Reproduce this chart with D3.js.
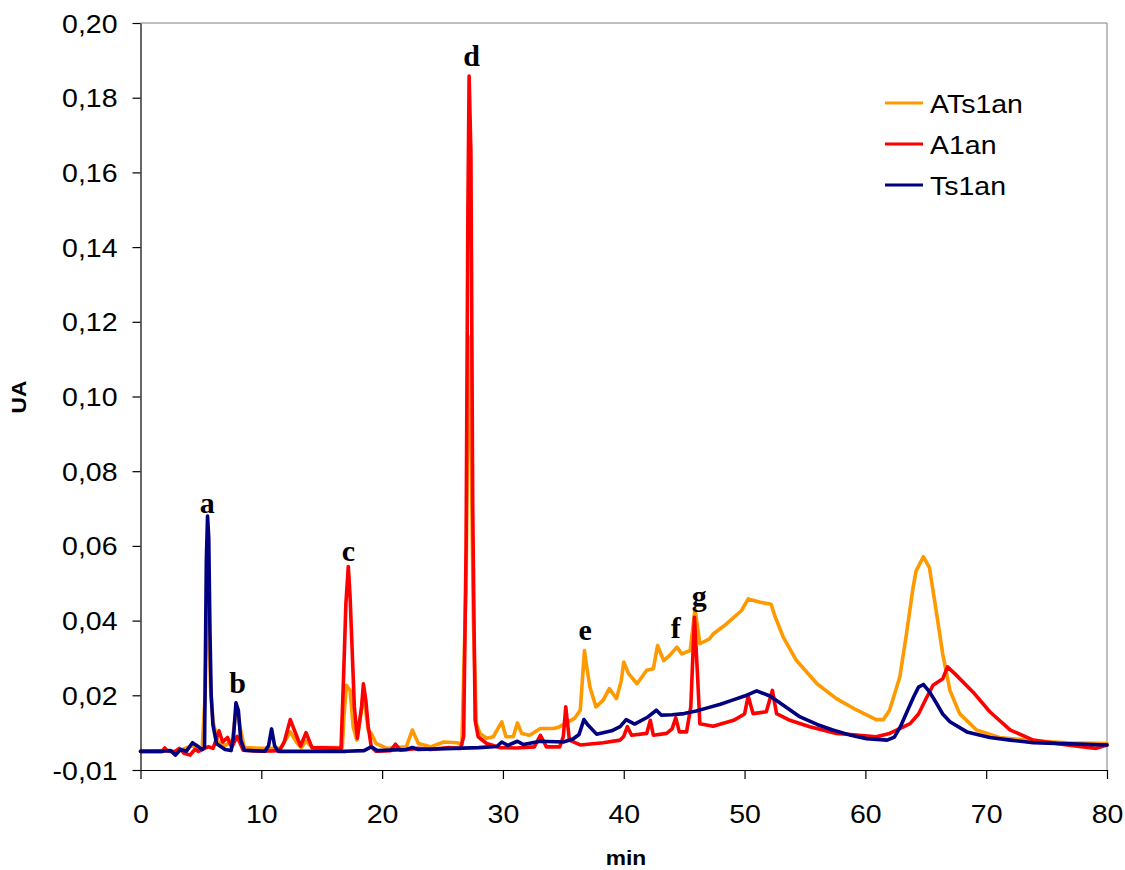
<!DOCTYPE html>
<html><head><meta charset="utf-8">
<script src="https://cdn.jsdelivr.net/npm/d3@7"></script>
<style>
body{margin:0;background:#fff}
svg{display:block}
text{fill:#000}
</style>
</head><body>
<svg id="c" width="1125" height="870"></svg>
<script>
// ---------- data ----------
const seriesNames = ["ATs1an", "A1an", "Ts1an"];
const xTicks = [0, 10, 20, 30, 40, 50, 60, 70, 80];
const yTicks = [0, 0.02, 0.04, 0.06, 0.08, 0.10, 0.12, 0.14, 0.16, 0.18, 0.20];
const yTickLabels = ["-0,01", "0,02", "0,04", "0,06", "0,08", "0,10", "0,12", "0,14", "0,16", "0,18", "0,20"];
const xTitle = "min";
const yTitle = "UA";

// [min, UA]
const ATs1an = [[0,0.005],[2,0.0052],[3,0.005],[4.3,0.0065],[5.1,0.0055],[5.35,0.02],[5.5,0.045],[5.65,0.04],[5.8,0.022],[6.0,0.013],[6.4,0.0075],[7.0,0.0065],[7.6,0.008],[7.95,0.017],[8.2,0.012],[8.6,0.006],[10,0.0058],[11.6,0.0058],[12.4,0.0102],[12.9,0.0075],[13.3,0.006],[13.7,0.0078],[14.2,0.006],[16.7,0.006],[16.85,0.015],[17.05,0.0227],[17.35,0.0213],[17.6,0.0116],[17.9,0.008],[18.2,0.0142],[18.45,0.0205],[18.85,0.0107],[19.1,0.0098],[19.5,0.0071],[20.4,0.0058],[22.0,0.0062],[22.5,0.0107],[23.0,0.0071],[24.0,0.0062],[25.1,0.0075],[26.2,0.0073],[26.6,0.0068],[26.95,0.05],[27.15,0.116],[27.35,0.09],[27.55,0.04],[27.8,0.0124],[28.1,0.0098],[28.65,0.0085],[29.2,0.0089],[29.9,0.0129],[30.25,0.0089],[30.85,0.0089],[31.2,0.0126],[31.55,0.0098],[32.2,0.0093],[33.1,0.0111],[34.2,0.0111],[34.7,0.0116],[35.95,0.0139],[36.4,0.016],[36.75,0.032],[36.9,0.0284],[37.2,0.0222],[37.7,0.0169],[38.3,0.0187],[38.8,0.0218],[39.4,0.0191],[39.8,0.024],[40.0,0.0289],[40.4,0.0258],[41.1,0.0231],[41.9,0.0267],[42.45,0.0271],[42.8,0.0333],[43.3,0.0293],[43.8,0.0307],[44.4,0.0329],[44.8,0.0311],[45.5,0.032],[45.9,0.0431],[46.3,0.0338],[47.1,0.0351],[47.4,0.0364],[48.5,0.0391],[49.75,0.0427],[50.3,0.0458],[51.3,0.0449],[52.2,0.0444],[52.5,0.0413],[53.2,0.0356],[54.3,0.0293],[56,0.0231],[57.6,0.0191],[59.3,0.016],[60.9,0.0135],[61.5,0.0135],[62.0,0.016],[62.85,0.0249],[63.4,0.0364],[63.95,0.0489],[64.2,0.0533],[64.8,0.0571],[65.3,0.0542],[65.9,0.0418],[66.4,0.0311],[67,0.0213],[67.8,0.0151],[69.2,0.0107],[71.1,0.0087],[73.9,0.0078],[76.7,0.0073],[80,0.0071]];

const A1an = [[0,0.005],[1.8,0.005],[2.0,0.0059],[2.3,0.005],[2.8,0.0048],[3.2,0.0058],[3.6,0.0045],[4.1,0.004],[4.5,0.0055],[4.8,0.005],[5.3,0.0058],[5.6,0.0062],[6.0,0.0058],[6.2,0.0075],[6.5,0.0105],[6.8,0.0075],[7.2,0.0087],[7.55,0.0061],[8.0,0.009],[8.5,0.0053],[10,0.005],[11.5,0.0052],[11.9,0.0075],[12.4,0.0135],[12.9,0.0093],[13.25,0.0064],[13.7,0.010],[14.2,0.006],[16.6,0.0058],[16.8,0.024],[17.0,0.0445],[17.2,0.0545],[17.35,0.0462],[17.5,0.0338],[17.7,0.0169],[17.95,0.0085],[18.3,0.0169],[18.45,0.0231],[18.65,0.0187],[18.85,0.0116],[19.1,0.0062],[19.5,0.005],[20.7,0.0052],[21.1,0.0069],[21.5,0.0053],[23,0.0058],[24,0.0055],[25.5,0.006],[26.5,0.0058],[26.75,0.009],[26.95,0.06],[27.1,0.15],[27.2,0.1858],[27.35,0.165],[27.5,0.07],[27.7,0.0133],[27.95,0.0089],[28.65,0.0071],[29.75,0.006],[31.1,0.0059],[32.6,0.0062],[33.1,0.0093],[33.6,0.0062],[34.7,0.0062],[35.0,0.009],[35.2,0.0169],[35.5,0.008],[36.4,0.0067],[38.3,0.0073],[39.7,0.008],[40.0,0.009],[40.3,0.0116],[40.65,0.0093],[41.9,0.0098],[42.2,0.0133],[42.45,0.0093],[43.55,0.0098],[44.0,0.011],[44.3,0.014],[44.6,0.0102],[45.2,0.0102],[45.55,0.0169],[45.85,0.0409],[46.1,0.0258],[46.3,0.0124],[47.4,0.0117],[49.1,0.0133],[50.0,0.015],[50.3,0.0198],[50.7,0.0151],[51.8,0.0156],[52.3,0.0213],[52.65,0.0151],[53.75,0.0133],[55.4,0.0116],[57.6,0.0098],[60.9,0.0089],[62.0,0.0098],[62.8,0.011],[63.7,0.0124],[64.4,0.015],[65.1,0.0196],[65.6,0.0227],[66.4,0.0244],[66.8,0.0276],[67.4,0.0258],[68.9,0.0209],[70.3,0.0156],[72,0.0107],[73.9,0.008],[76.7,0.0067],[79.1,0.0058],[80,0.0067]];

const Ts1an = [[0,0.005],[1.8,0.005],[2.5,0.0052],[2.9,0.004],[3.3,0.0055],[3.8,0.005],[4.3,0.0073],[4.8,0.0062],[5.1,0.0055],[5.3,0.006],[5.45,0.056],[5.55,0.068],[5.65,0.062],[5.75,0.037],[5.85,0.02],[6.0,0.012],[6.3,0.007],[7.0,0.0055],[7.5,0.0052],[7.7,0.009],[7.9,0.018],[8.1,0.016],[8.3,0.008],[8.6,0.0053],[10.3,0.005],[10.6,0.0065],[10.85,0.011],[11.1,0.0065],[11.4,0.005],[13,0.005],[17,0.005],[18.5,0.0052],[19.1,0.0062],[19.6,0.0052],[22,0.0055],[22.5,0.006],[23,0.0055],[26,0.0058],[28,0.006],[29.5,0.0063],[29.9,0.0075],[30.4,0.0066],[31.2,0.0077],[31.7,0.0068],[33.1,0.0077],[35,0.0075],[35.8,0.0083],[36.3,0.0095],[36.7,0.0135],[37.0,0.0122],[37.75,0.0096],[39.0,0.0105],[39.7,0.0116],[40.2,0.0135],[40.9,0.0123],[42.0,0.0142],[42.7,0.016],[43.1,0.0147],[44,0.0148],[45,0.0151],[46,0.0158],[47,0.0167],[48,0.0176],[49,0.0187],[50,0.0198],[51,0.0212],[52.1,0.0198],[53,0.0178],[54.6,0.0142],[56,0.0122],[57.3,0.0107],[58.7,0.0094],[60.1,0.0084],[61.8,0.008],[62.4,0.0088],[62.9,0.0116],[63.5,0.016],[64,0.0196],[64.4,0.0222],[64.8,0.0229],[65.3,0.021],[65.9,0.0178],[66.4,0.015],[67,0.0129],[68.4,0.0102],[70.3,0.0087],[72,0.008],[73.9,0.0073],[77,0.007],[80,0.0067]];

const peakLabels = ["a", "b", "c", "d", "e", "f", "g"];
const peakMin = [5.53, 8.04, 17.2, 27.4, 36.8, 44.3, 46.25];
const peakUA = [0.0689, 0.0207, 0.056, 0.1884, 0.0347, 0.0354, 0.044];

// ---------- styles ----------
const colors = ["#FF9900", "#FF0000", "#000080"];
const sans = '"Liberation Sans",Arial,sans-serif';
const serif = '"Liberation Serif","Times New Roman",serif';
const stretch = 1.14;
const m = {left: 140.5, top: 23, right: 1107, bottom: 770};

const svg = d3.select("#c");
const x = d3.scaleLinear().domain([0, 80]).range([m.left, m.right]);
const y = d3.scaleLinear().domain([0, 0.2]).range([m.bottom, m.top]);

// plot border (grey top/right)
svg.append("path")
  .attr("d", `M${m.left},${m.top}H${m.right}V${m.bottom}`)
  .attr("fill", "none").attr("stroke", "#808080").attr("stroke-width", 1);

// series
const line = d3.line().x(d => x(d[0])).y(d => y(d[1]));
const data = [ATs1an, A1an, Ts1an];
data.forEach((s, i) => {
  svg.append("path").datum(s)
    .attr("d", line)
    .attr("fill", "none")
    .attr("stroke", colors[i])
    .attr("stroke-width", 3.6)
    .attr("stroke-linejoin", "round")
    .attr("stroke-linecap", "round");
});

// axes
const yAxis = svg.append("g").attr("transform", `translate(${m.left},0)`)
  .call(d3.axisLeft(y).tickValues(yTicks).tickFormat((d, i) => yTickLabels[i]).tickSize(8).tickSizeOuter(0));
const xAxis = svg.append("g").attr("transform", `translate(0,${m.bottom})`)
  .call(d3.axisBottom(x).tickValues(xTicks).tickFormat(d => d).tickSize(9).tickSizeOuter(0));

[yAxis, xAxis].forEach(g => {
  g.selectAll("path.domain").attr("stroke", "#000").attr("stroke-width", 1.2);
  g.selectAll(".tick line").attr("stroke", "#000").attr("stroke-width", 1.2);
  g.selectAll("text").style("font-size", "25px").style("font-family", sans).style("fill", "#000");
});
yAxis.selectAll(".tick text").attr("x", -23 / stretch).attr("dy", "0.36em")
  .attr("transform", `scale(${stretch},1)`);
xAxis.selectAll(".tick text").attr("y", 35).attr("dy", "0.71em")
  .attr("transform", `scale(${stretch},1)`);

// axis titles
svg.append("text")
  .attr("transform", `translate(626,865) scale(${stretch},1)`)
  .attr("text-anchor", "middle")
  .style("font-family", sans).style("font-size", "20px").style("font-weight", "bold")
  .text(xTitle);
svg.append("text")
  .attr("transform", `translate(26,397) rotate(-90) scale(${stretch},1)`)
  .attr("text-anchor", "middle")
  .style("font-family", sans).style("font-size", "20px").style("font-weight", "bold")
  .text(yTitle);

// peak labels
svg.append("g").selectAll("text").data(peakLabels).join("text")
  .attr("x", (d, i) => x(peakMin[i]))
  .attr("y", (d, i) => y(peakUA[i]))
  .attr("text-anchor", "middle")
  .style("font-family", serif)
  .style("font-weight", "bold").style("font-size", "30px")
  .text(d => d);

// legend
const leg = svg.append("g");
const legY = [103, 144, 185];
seriesNames.forEach((n, i) => {
  leg.append("line").attr("x1", 885).attr("x2", 923).attr("y1", legY[i]).attr("y2", legY[i])
    .attr("stroke", colors[i]).attr("stroke-width", 3);
  leg.append("text")
    .attr("transform", `translate(930,${legY[i] + 9.5}) scale(${stretch},1)`)
    .style("font-family", sans).style("font-size", "25px")
    .text(n);
});
</script>
</body></html>
